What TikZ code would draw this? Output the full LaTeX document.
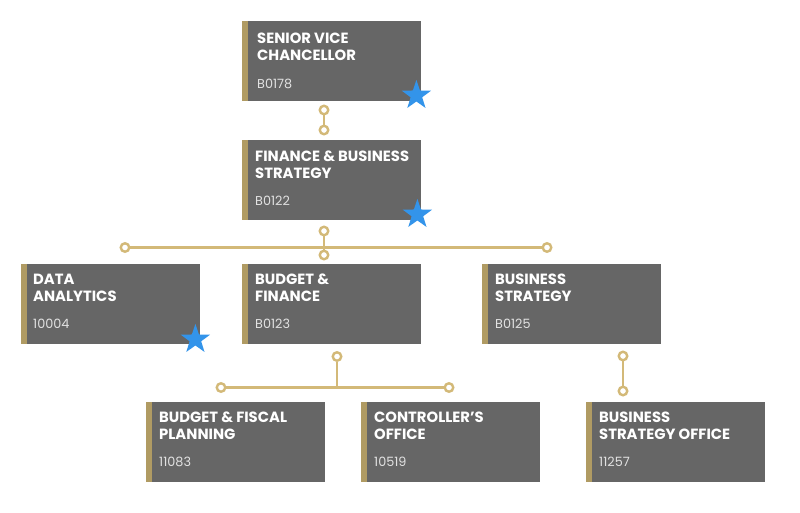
\documentclass[tikz,border=0pt]{standalone}
\usepackage{fontspec}
\setmainfont{Poppins}
\usetikzlibrary{shapes.geometric}

\definecolor{boxgray}{HTML}{666666}
\definecolor{stripegold}{HTML}{B09B63}
\definecolor{linkgold}{HTML}{D3B978}
\definecolor{starblue}{HTML}{3394EA}
\definecolor{codegray}{HTML}{E2E2E2}

\tikzset{
  unit/.style={fill=boxgray, minimum width=179pt, minimum height=80pt,
    anchor=north west, inner sep=0pt,
    path picture={\fill[stripegold] (path picture bounding box.north west)
      rectangle ([xshift=6pt]path picture bounding box.south west);}},
  unittitle/.style={anchor=north west, inner sep=0pt, text=white, align=left,
    font=\bfseries\fontsize{14.8}{16.5}\selectfont},
  unitcode/.style={anchor=base west, inner sep=0pt, text=codegray,
    font=\fontsize{12.8}{14}\selectfont},
  dot/.style={circle, draw=linkgold, line width=2.4pt, fill=white,
    minimum size=8.5pt, inner sep=0pt},
  link/.style={draw=linkgold, line width=2.4pt},
  fav/.style={star, star points=5, star point ratio=2.55, fill=starblue,
    minimum size=31pt, inner sep=0pt}
}

\begin{document}
\begin{tikzpicture}[x=1pt, y=-1pt]
  \useasboundingbox (0,0) rectangle (800,512);

  % Top level
  \node[unit] (svc) at (242,21) {};
  \node[unittitle] (svctitle) at ([shift={(15,12)}]svc.north west) {SENIOR VICE\\CHANCELLOR};
  \node[unitcode] (svccode) at ([shift={(15,67)}]svc.north west) {B0178};
  \node[fav] (svcstar) at ([shift={(-5,-6)}]svc.south east) {};

  \node[unit] (fbs) at (242,140) {};
  \node[unittitle] (fbstitle) at ([shift={(13,11)}]fbs.north west) {FINANCE \& BUSINESS\\STRATEGY};
  \node[unitcode] (fbscode) at ([shift={(13,65)}]fbs.north west) {B0122};
  \node[fav] (fbsstar) at ([shift={(-4,-6)}]fbs.south east) {};

  % Second level
  \node[unit] (da) at (21,264) {};
  \node[unittitle] (datitle) at ([shift={(12,10)}]da.north west) {DATA\\ANALYTICS};
  \node[unitcode] (dacode) at ([shift={(12,64)}]da.north west) {10004};
  \node[fav] (dastar) at ([shift={(-5,-5)}]da.south east) {};

  \node[unit] (bf) at (242,264) {};
  \node[unittitle] (bftitle) at ([shift={(13,10)}]bf.north west) {BUDGET \&\\FINANCE};
  \node[unitcode] (bfcode) at ([shift={(13,64)}]bf.north west) {B0123};

  \node[unit] (bs) at (482,264) {};
  \node[unittitle] (bstitle) at ([shift={(13,10)}]bs.north west) {BUSINESS\\STRATEGY};
  \node[unitcode] (bscode) at ([shift={(13,64)}]bs.north west) {B0125};

  % Third level
  \node[unit] (bfp) at (146,402) {};
  \node[unittitle] (bfptitle) at ([shift={(13,10)}]bfp.north west) {BUDGET \& FISCAL\\PLANNING};
  \node[unitcode] (bfpcode) at ([shift={(13,64)}]bfp.north west) {11083};

  \node[unit] (co) at (361,402) {};
  \node[unittitle] (cotitle) at ([shift={(13,10)}]co.north west) {CONTROLLER'S\\OFFICE};
  \node[unitcode] (cocode) at ([shift={(13,64)}]co.north west) {10519};

  \node[unit] (bso) at (586,402) {};
  \node[unittitle] (bsotitle) at ([shift={(13,10)}]bso.north west) {BUSINESS\\STRATEGY OFFICE};
  \node[unitcode] (bsocode) at ([shift={(13,64)}]bso.north west) {11257};

  % Connector dots
  \node[dot] (svcout) at (324,110) {};
  \node[dot] (fbsin) at (324,130) {};
  \node[dot] (fbsout) at (324,231) {};
  \node[dot] (busaleft) at (125,247.5) {};
  \node[dot] (busaright) at (547,247.5) {};
  \node[dot] (bfin) at (324,255) {};
  \node[dot] (bfout) at (337,356.5) {};
  \node[dot] (busbleft) at (221,387.5) {};
  \node[dot] (busbright) at (449,387.5) {};
  \node[dot] (bsout) at (623,356) {};
  \node[dot] (bsoin) at (623,391) {};
  \coordinate (busb) at (337,387.5);

  % Connectors
  \draw[link] (svcout) -- (fbsin);
  \draw[link] (fbsout) -- (bfin);
  \draw[link] (busaleft) -- (busaright);
  \draw[link] (bfout) -- (busb);
  \draw[link] (busbleft) -- (busbright);
  \draw[link] (bsout) -- (bsoin);
\end{tikzpicture}
\end{document}
